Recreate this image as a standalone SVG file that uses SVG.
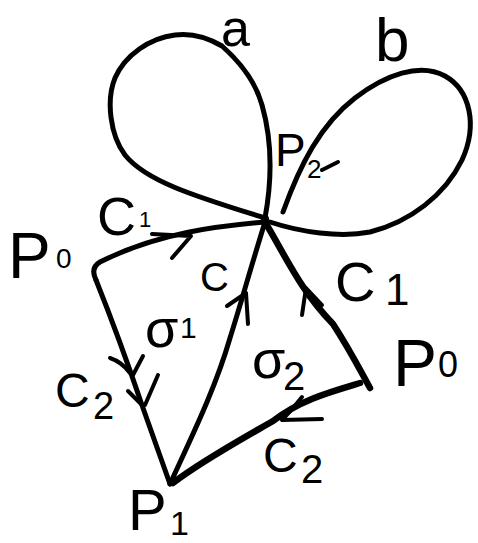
<svg xmlns="http://www.w3.org/2000/svg" width="478" height="543" viewBox="0 0 478 543">
<style>
.ln{fill:none;stroke:#000;stroke-width:5;stroke-linecap:round;stroke-linejoin:round}
.th{stroke-width:6.5}
.ar{fill:none;stroke:#000;stroke-width:4;stroke-linecap:round;stroke-linejoin:round}
text{font-family:"Liberation Sans","DejaVu Sans",sans-serif;fill:#000}
</style>
<rect width="478" height="543" fill="#fff"/>
<g id="connectors">
<path id="loop-a" class="ln" d="M265,218 C272,180 272,140 262,105 C255,80 240,62 222,46 C205,36 190,33 175,35 C150,38 125,55 115,78 C106,100 110,135 125,155 C145,180 190,195 265,218"/>
<path id="loop-b" class="ln" d="M270,222 C300,232 340,238 370,232 C410,222 445,195 462,160 C478,125 470,90 445,76 C420,62 385,75 355,98 C320,125 300,165 283,212"/>
<path id="edge-c1-left" class="ln" d="M265,222 C220,226 160,232 100,262 Q90,268 96,280"/>
<path id="edge-c2-left" class="ln" d="M96,280 C110,315 125,355 143,408 L170,484"/>
<path id="edge-c-diag" class="ln" d="M265,222 C250,270 242,300 230,338 C215,390 190,440 170,484"/>
<path id="edge-c1-right" class="ln th" d="M265,222 C285,255 300,290 333,324 C350,350 360,370 370,388"/>
<path id="edge-c2-bottom" class="ln th" d="M360,383 C330,392 300,400 273,421 C240,440 200,462 173,483"/>
<path class="ar" d="M152,234 L191,236 L172,258"/>
<path class="ar" d="M110,358 Q122,362 130,373 M143,356 L133,375 M128,391 L142,405 M158,375 L145,405"/>
<path class="ar" d="M227,306 L246,293 L248,324"/>
<path class="ar" d="M302,315 L306,288 L322,305"/>
<path class="ar" d="M302,397 Q292,410 282,420 L322,419"/>
<path class="ar" d="M322,170 L338,162"/>
<circle cx="265" cy="219" r="4" fill="#000"/>
</g>
<g id="loop-a-label"><text x="221" y="46" font-size="52">a</text></g>
<g id="loop-b-label"><text x="375" y="61" font-size="62">b</text></g>
<g id="vertex-p2"><text x="275" y="166" font-size="46">P</text><text x="307" y="178" font-size="26">2</text></g>
<g id="vertex-p0-left"><text x="8" y="278" font-size="64">P</text><text x="56" y="268" font-size="28">0</text></g>
<g id="vertex-p0-right"><text x="393" y="386" font-size="66">P</text><text x="438" y="377" font-size="36">0</text></g>
<g id="vertex-p1"><text x="128" y="530" font-size="58">P</text><text x="170" y="535" font-size="34">1</text></g>
<g id="label-c1-left"><text x="97" y="235" font-size="54">C</text><text x="139" y="227" font-size="22">1</text></g>
<g id="label-c-diag"><text x="200" y="291" font-size="40">C</text></g>
<g id="label-c1-right"><text x="335" y="301" font-size="56">C</text><text x="385" y="305" font-size="44">1</text></g>
<g id="label-c2-left"><text x="55" y="407" font-size="48">C</text><text x="93" y="419" font-size="38">2</text></g>
<g id="label-c2-bottom"><text x="263" y="472" font-size="48">C</text><text x="301" y="483" font-size="40">2</text></g>
<g id="cell-sigma1"><text x="145" y="347" font-size="54">σ</text><text x="180" y="338" font-size="30">1</text></g>
<g id="cell-sigma2"><text x="252" y="378" font-size="54">σ</text><text x="283" y="390" font-size="40">2</text></g>
</svg>
